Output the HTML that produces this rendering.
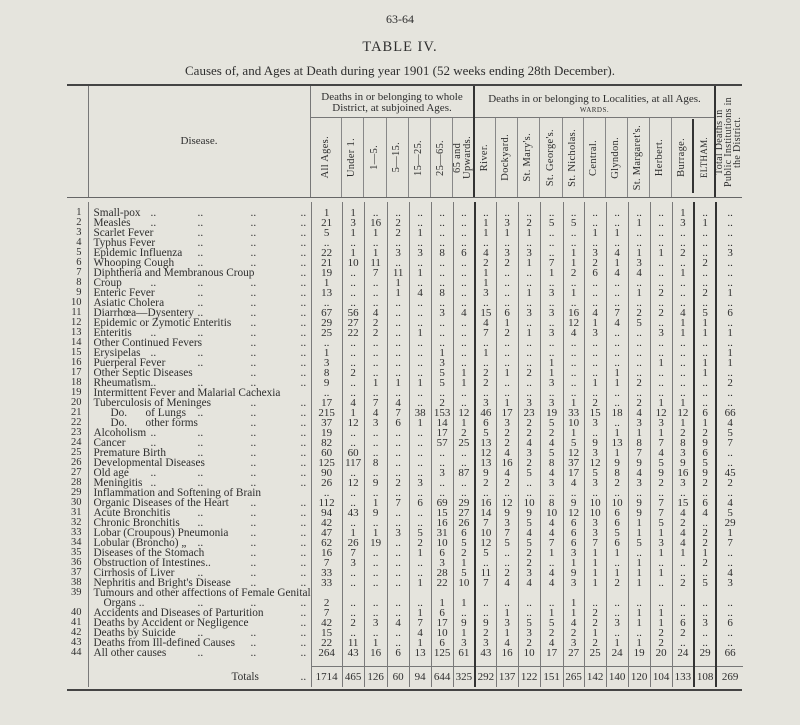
<!DOCTYPE html>
<html><head><meta charset="utf-8">
<style>
body{margin:0;background:#e5e4dd;}
#p{position:relative;width:800px;height:725px;overflow:hidden;background:#e5e4dd;color:#2e2e2e;font-family:"Liberation Serif",serif;}
.t{position:absolute;left:0;width:800px;text-align:center;white-space:nowrap}
.ln{position:absolute;background:#444}
.h{position:absolute;top:117px;height:81px;display:flex;align-items:center;justify-content:center;font-size:10.5px;line-height:10px}
.h span{writing-mode:vertical-rl;transform:rotate(180deg);white-space:nowrap;letter-spacing:0.3px}
table{position:absolute;left:67px;top:202px;border-collapse:collapse;table-layout:fixed;font-size:11px}
td{padding:0;height:10px;line-height:10px;text-align:center;border-left:1px solid #7a7a7a;white-space:nowrap;overflow:visible}
td:first-child{border:0;text-align:right;padding-right:6px;font-size:10.5px}
td:nth-child(2){text-align:left;padding-left:5px;position:relative;font-size:11.3px}
td:nth-child(10),td:nth-child(20),td:nth-child(21){border-left:2px solid #333}
i{position:absolute;top:0;font-style:normal}
.a{left:62px}.b{left:109px}.c{left:162px}.e{left:212px}
tr.sp td{height:6px}
tr.sp2 td{height:8px}
tr.tot td{height:20px;line-height:20px}
tr.tot td:nth-child(n+3){border-top:1px solid #777}
</style></head><body><div id="p">
<div class="t" style="top:12px;font-size:12px">63-64</div>
<div class="t" style="top:39px;font-size:14.5px;letter-spacing:1px">TABLE IV.</div>
<div class="t" style="top:63px;font-size:13px">Causes of, and Ages at Death during year 1901 (52 weeks ending 28th December).</div>

<div class="ln" style="left:67px;top:84px;width:675px;height:2px"></div>
<div class="ln" style="left:310px;top:117px;width:405px;height:1px;background:#777"></div>
<div class="ln" style="left:67px;top:197px;width:675px;height:1px;background:#666"></div>
<div class="ln" style="left:88px;top:86px;width:1px;height:111px;background:#777"></div>
<div class="ln" style="left:310px;top:86px;width:1px;height:111px;background:#777"></div>
<div class="ln" style="left:473px;top:86px;width:2px;height:111px;background:#333"></div>
<div class="ln" style="left:714px;top:86px;width:2px;height:111px;background:#333"></div>
<div class="ln" style="left:692px;top:119px;width:2px;height:74px;background:#333"></div>
<div class="ln" style="left:341px;top:118px;width:1px;height:79px;background:#888"></div>
<div class="ln" style="left:363px;top:118px;width:1px;height:79px;background:#888"></div>
<div class="ln" style="left:386px;top:118px;width:1px;height:79px;background:#888"></div>
<div class="ln" style="left:408px;top:118px;width:1px;height:79px;background:#888"></div>
<div class="ln" style="left:430px;top:118px;width:1px;height:79px;background:#888"></div>
<div class="ln" style="left:452px;top:118px;width:1px;height:79px;background:#888"></div>
<div class="ln" style="left:495px;top:118px;width:1px;height:79px;background:#888"></div>
<div class="ln" style="left:517px;top:118px;width:1px;height:79px;background:#888"></div>
<div class="ln" style="left:539px;top:118px;width:1px;height:79px;background:#888"></div>
<div class="ln" style="left:562px;top:118px;width:1px;height:79px;background:#888"></div>
<div class="ln" style="left:583px;top:118px;width:1px;height:79px;background:#888"></div>
<div class="ln" style="left:605px;top:118px;width:1px;height:79px;background:#888"></div>
<div class="ln" style="left:627px;top:118px;width:1px;height:79px;background:#888"></div>
<div class="ln" style="left:649px;top:118px;width:1px;height:79px;background:#888"></div>
<div class="ln" style="left:671px;top:118px;width:1px;height:79px;background:#888"></div>

<div style="position:absolute;left:88px;top:135px;width:222px;text-align:center;font-size:11px">Disease.</div>
<div style="position:absolute;left:310px;top:92px;width:164px;text-align:center;font-size:11px;line-height:11px">Deaths in or belonging to whole<br>District, at subjoined Ages.</div>
<div style="position:absolute;left:474px;top:94px;width:241px;text-align:center;font-size:11px;line-height:10px">Deaths in or belonging to Localities, at all Ages.<br><span style="font-size:7px;letter-spacing:0.5px">WARDS.</span></div>
<div class="h" style="left:715px;top:86px;height:111px;width:27px;line-height:9px;font-size:10px"><span style="text-align:center">Total Deaths in<br>Public Institutions in<br>the District.</span></div>

<div class="h" style="left:310px;width:31px"><span>All Ages.</span></div>
<div class="h" style="left:341px;width:22px"><span>Under 1.</span></div>
<div class="h" style="left:363px;width:23px"><span>1—5.</span></div>
<div class="h" style="left:386px;width:22px"><span>5—15.</span></div>
<div class="h" style="left:408px;width:22px"><span>15—25.</span></div>
<div class="h" style="left:430px;width:22px"><span>25—65.</span></div>
<div class="h" style="left:452px;width:22px"><span style="text-align:center">65 and<br>Upwards.</span></div>
<div class="h" style="left:474px;width:21px"><span>River.</span></div>
<div class="h" style="left:495px;width:22px"><span>Dockyard.</span></div>
<div class="h" style="left:517px;width:22px"><span>St. Mary's.</span></div>
<div class="h" style="left:539px;width:23px"><span>St. George's.</span></div>
<div class="h" style="left:562px;width:21px"><span>St. Nicholas.</span></div>
<div class="h" style="left:583px;width:22px"><span>Central.</span></div>
<div class="h" style="left:605px;width:22px"><span>Glyndon.</span></div>
<div class="h" style="left:627px;width:22px"><span>St. Margaret's.</span></div>
<div class="h" style="left:649px;width:22px"><span>Herbert.</span></div>
<div class="h" style="left:671px;width:22px"><span>Burrage.</span></div>
<div class="h" style="left:693px;width:22px"><span style="font-size:9px">ELTHAM.</span></div>

<table>
<colgroup><col style="width:21px"><col style="width:222px"><col style="width:31px"><col style="width:22px"><col style="width:23px"><col style="width:22px"><col style="width:22px"><col style="width:22px"><col style="width:22px"><col style="width:21px"><col style="width:22px"><col style="width:22px"><col style="width:23px"><col style="width:21px"><col style="width:22px"><col style="width:22px"><col style="width:22px"><col style="width:22px"><col style="width:22px"><col style="width:22px"><col style="width:27px"></colgroup>
<tr class="sp"><td><td><td><td><td><td><td><td><td><td><td><td><td><td><td><td><td><td><td><td><td></tr>
<tr><td>1<td>Small-pox<i class=a>..</i><i class=b>..</i><i class=c>..</i><i class=e>..</i><td>1<td>1<td>..<td>..<td>..<td>..<td>..<td>..<td>..<td>..<td>..<td>..<td>..<td>..<td>..<td>..<td>1<td>..<td>..</tr>
<tr><td>2<td>Measles<i class=a>..</i><i class=b>..</i><i class=c>..</i><i class=e>..</i><td>21<td>3<td>16<td>2<td>..<td>..<td>..<td>1<td>3<td>2<td>5<td>5<td>..<td>..<td>1<td>..<td>3<td>1<td>..</tr>
<tr><td>3<td>Scarlet Fever<i class=b>..</i><i class=c>..</i><i class=e>..</i><td>5<td>1<td>1<td>2<td>1<td>..<td>..<td>1<td>1<td>1<td>..<td>..<td>1<td>1<td>..<td>..<td>..<td>..<td>..</tr>
<tr><td>4<td>Typhus Fever<i class=b>..</i><i class=c>..</i><i class=e>..</i><td>..<td>..<td>..<td>..<td>..<td>..<td>..<td>..<td>..<td>..<td>..<td>..<td>..<td>..<td>..<td>..<td>..<td>..<td>..</tr>
<tr><td>5<td>Epidemic Influenza<i class=b>..</i><i class=c>..</i><i class=e>..</i><td>22<td>1<td>1<td>3<td>3<td>8<td>6<td>4<td>3<td>3<td>..<td>1<td>3<td>4<td>1<td>1<td>2<td>..<td>3</tr>
<tr><td>6<td>Whooping Cough<i class=b>..</i><i class=c>..</i><i class=e>..</i><td>21<td>10<td>11<td>..<td>..<td>..<td>..<td>2<td>2<td>1<td>7<td>1<td>2<td>1<td>3<td>..<td>..<td>2<td>..</tr>
<tr><td>7<td>Diphtheria and Membranous Croup<i class=e>..</i><td>19<td>..<td>7<td>11<td>1<td>..<td>..<td>1<td>..<td>..<td>1<td>2<td>6<td>4<td>4<td>..<td>1<td>..<td>..</tr>
<tr><td>8<td>Croup<i class=a>..</i><i class=b>..</i><i class=c>..</i><i class=e>..</i><td>1<td>..<td>..<td>1<td>..<td>..<td>..<td>1<td>..<td>..<td>..<td>..<td>..<td>..<td>..<td>..<td>..<td>..<td>..</tr>
<tr><td>9<td>Enteric Fever<i class=b>..</i><i class=c>..</i><i class=e>..</i><td>13<td>..<td>..<td>1<td>4<td>8<td>..<td>3<td>..<td>1<td>3<td>1<td>..<td>..<td>1<td>2<td>..<td>2<td>1</tr>
<tr><td>10<td>Asiatic Cholera<i class=b>..</i><i class=c>..</i><i class=e>..</i><td>..<td>..<td>..<td>..<td>..<td>..<td>..<td>..<td>..<td>..<td>..<td>..<td>..<td>..<td>..<td>..<td>..<td>..<td>..</tr>
<tr><td>11<td>Diarrhœa—Dysentery<i class=b>..</i><i class=c>..</i><i class=e>..</i><td>67<td>56<td>4<td>..<td>..<td>3<td>4<td>15<td>6<td>3<td>3<td>16<td>4<td>7<td>2<td>2<td>4<td>5<td>6</tr>
<tr><td>12<td>Epidemic or Zymotic Enteritis<i class=c>..</i><i class=e>..</i><td>29<td>27<td>2<td>..<td>..<td>..<td>..<td>4<td>1<td>..<td>..<td>12<td>1<td>4<td>5<td>..<td>1<td>1<td>..</tr>
<tr><td>13<td>Enteritis<i class=a>..</i><i class=b>..</i><i class=c>..</i><i class=e>..</i><td>25<td>22<td>2<td>..<td>1<td>..<td>..<td>7<td>2<td>1<td>3<td>4<td>3<td>..<td>..<td>3<td>1<td>1<td>1</tr>
<tr><td>14<td>Other Continued Fevers<i class=c>..</i><i class=e>..</i><td>..<td>..<td>..<td>..<td>..<td>..<td>..<td>..<td>..<td>..<td>..<td>..<td>..<td>..<td>..<td>..<td>..<td>..<td>..</tr>
<tr><td>15<td>Erysipelas<i class=a>..</i><i class=b>..</i><i class=c>..</i><i class=e>..</i><td>1<td>..<td>..<td>..<td>..<td>1<td>..<td>1<td>..<td>..<td>..<td>..<td>..<td>..<td>..<td>..<td>..<td>..<td>1</tr>
<tr><td>16<td>Puerperal Fever<i class=b>..</i><i class=c>..</i><i class=e>..</i><td>3<td>..<td>..<td>..<td>..<td>3<td>..<td>..<td>..<td>..<td>1<td>..<td>..<td>..<td>..<td>1<td>..<td>1<td>1</tr>
<tr><td>17<td>Other Septic Diseases<i class=c>..</i><i class=e>..</i><td>8<td>2<td>..<td>..<td>..<td>5<td>1<td>2<td>1<td>2<td>1<td>..<td>..<td>1<td>..<td>..<td>..<td>1<td>..</tr>
<tr><td>18<td>Rheumatism<i class=a>..</i><i class=b>..</i><i class=c>..</i><i class=e>..</i><td>9<td>..<td>1<td>1<td>1<td>5<td>1<td>2<td>..<td>..<td>3<td>..<td>1<td>1<td>2<td>..<td>..<td>..<td>2</tr>
<tr><td>19<td>Intermittent Fever and Malarial Cachexia<td>..<td>..<td>..<td>..<td>..<td>..<td>..<td>..<td>..<td>..<td>..<td>..<td>..<td>..<td>..<td>..<td>..<td>..<td>..</tr>
<tr><td>20<td>Tuberculosis of Meninges<i class=c>..</i><i class=e>..</i><td>17<td>4<td>7<td>4<td>..<td>2<td>..<td>3<td>1<td>3<td>3<td>1<td>2<td>..<td>2<td>1<td>1<td>..<td>..</tr>
<tr><td>21<td><i style="left:22px">Do.</i><i style="left:57px">of Lungs</i><i class=b>..</i><i class=c>..</i><i class=e>..</i><td>215<td>1<td>4<td>7<td>38<td>153<td>12<td>46<td>17<td>23<td>19<td>33<td>15<td>18<td>4<td>12<td>12<td>6<td>66</tr>
<tr><td>22<td><i style="left:22px">Do.</i><i style="left:57px">other forms</i><i class=c>..</i><i class=e>..</i><td>37<td>12<td>3<td>6<td>1<td>14<td>1<td>6<td>3<td>2<td>5<td>10<td>3<td>..<td>3<td>3<td>1<td>1<td>4</tr>
<tr><td>23<td>Alcoholism<i class=a>..</i><i class=b>..</i><i class=c>..</i><i class=e>..</i><td>19<td>..<td>..<td>..<td>..<td>17<td>2<td>5<td>2<td>2<td>2<td>1<td>..<td>1<td>1<td>1<td>2<td>2<td>5</tr>
<tr><td>24<td>Cancer<i class=a>..</i><i class=b>..</i><i class=c>..</i><i class=e>..</i><td>82<td>..<td>..<td>..<td>..<td>57<td>25<td>13<td>2<td>4<td>4<td>5<td>9<td>13<td>8<td>7<td>8<td>9<td>7</tr>
<tr><td>25<td>Premature Birth<i class=b>..</i><i class=c>..</i><i class=e>..</i><td>60<td>60<td>..<td>..<td>..<td>..<td>..<td>12<td>4<td>3<td>5<td>12<td>3<td>1<td>7<td>4<td>3<td>6<td>..</tr>
<tr><td>26<td>Developmental Diseases<i class=c>..</i><i class=e>..</i><td>125<td>117<td>8<td>..<td>..<td>..<td>..<td>13<td>16<td>2<td>8<td>37<td>12<td>9<td>9<td>5<td>9<td>5<td>..</tr>
<tr><td>27<td>Old age<i class=a>..</i><i class=b>..</i><i class=c>..</i><i class=e>..</i><td>90<td>..<td>..<td>..<td>..<td>3<td>87<td>9<td>4<td>5<td>4<td>17<td>5<td>8<td>4<td>9<td>16<td>9<td>45</tr>
<tr><td>28<td>Meningitis<i class=a>..</i><i class=b>..</i><i class=c>..</i><i class=e>..</i><td>26<td>12<td>9<td>2<td>3<td>..<td>..<td>2<td>2<td>..<td>3<td>4<td>3<td>2<td>3<td>2<td>3<td>2<td>2</tr>
<tr><td>29<td>Inflammation and Softening of Brain<td>..<td>..<td>..<td>..<td>..<td>..<td>..<td>..<td>..<td>..<td>..<td>..<td>..<td>..<td>..<td>..<td>..<td>..<td>..</tr>
<tr><td>30<td>Organic Diseases of the Heart<i class=c>..</i><i class=e>..</i><td>112<td>..<td>1<td>7<td>6<td>69<td>29<td>16<td>12<td>10<td>8<td>9<td>10<td>10<td>9<td>7<td>15<td>6<td>4</tr>
<tr><td>31<td>Acute Bronchitis<i class=b>..</i><i class=c>..</i><i class=e>..</i><td>94<td>43<td>9<td>..<td>..<td>15<td>27<td>14<td>9<td>9<td>10<td>12<td>10<td>6<td>9<td>7<td>4<td>4<td>5</tr>
<tr><td>32<td>Chronic Bronchitis<i class=b>..</i><i class=c>..</i><i class=e>..</i><td>42<td>..<td>..<td>..<td>..<td>16<td>26<td>7<td>3<td>5<td>4<td>6<td>3<td>6<td>1<td>5<td>2<td>..<td>29</tr>
<tr><td>33<td>Lobar (Croupous) Pneumonia<i class=c>..</i><i class=e>..</i><td>47<td>1<td>1<td>3<td>5<td>31<td>6<td>10<td>7<td>4<td>4<td>6<td>3<td>5<td>1<td>1<td>4<td>2<td>1</tr>
<tr><td>34<td>Lobular (Broncho) „<i class=b>..</i><i class=c>..</i><i class=e>..</i><td>62<td>26<td>19<td>..<td>2<td>10<td>5<td>12<td>5<td>5<td>7<td>6<td>7<td>6<td>5<td>3<td>4<td>2<td>7</tr>
<tr><td>35<td>Diseases of the Stomach<i class=c>..</i><i class=e>..</i><td>16<td>7<td>..<td>..<td>1<td>6<td>2<td>5<td>..<td>2<td>1<td>3<td>1<td>1<td>..<td>1<td>1<td>1<td>..</tr>
<tr><td>36<td>Obstruction of Intestines..<i class=c>..</i><i class=e>..</i><td>7<td>3<td>..<td>..<td>..<td>3<td>1<td>..<td>..<td>2<td>..<td>1<td>1<td>..<td>1<td>..<td>..<td>2<td>..</tr>
<tr><td>37<td>Cirrhosis of Liver<i class=b>..</i><i class=c>..</i><i class=e>..</i><td>33<td>..<td>..<td>..<td>..<td>28<td>5<td>11<td>2<td>3<td>4<td>9<td>1<td>1<td>1<td>1<td>..<td>..<td>4</tr>
<tr><td>38<td>Nephritis and Bright's Disease<i class=c>..</i><i class=e>..</i><td>33<td>..<td>..<td>..<td>1<td>22<td>10<td>7<td>4<td>4<td>4<td>3<td>1<td>2<td>1<td>..<td>2<td>5<td>3</tr>
<tr><td>39<td>Tumours and other affections of Female Genital<td><td><td><td><td><td><td><td><td><td><td><td><td><td><td><td><td><td><td></tr>
<tr><td><td><i style="left:15px">Organs ..</i><i class=b>..</i><i class=c>..</i><i class=e>..</i><td>2<td>..<td>..<td>..<td>..<td>1<td>1<td>..<td>..<td>..<td>..<td>1<td>..<td>..<td>..<td>..<td>..<td>..<td>..</tr>
<tr><td>40<td>Accidents and Diseases of Parturition<i class=e>..</i><td>7<td>..<td>..<td>..<td>1<td>6<td>..<td>..<td>1<td>..<td>1<td>1<td>2<td>..<td>1<td>1<td>..<td>..<td>..</tr>
<tr><td>41<td>Deaths by Accident or Negligence<i class=e>..</i><td>42<td>2<td>3<td>4<td>7<td>17<td>9<td>9<td>3<td>5<td>5<td>4<td>2<td>3<td>1<td>1<td>6<td>3<td>6</tr>
<tr><td>42<td>Deaths by Suicide<i class=b>..</i><i class=c>..</i><i class=e>..</i><td>15<td>..<td>..<td>..<td>4<td>10<td>1<td>2<td>1<td>3<td>2<td>2<td>1<td>..<td>..<td>2<td>2<td>..<td>..</tr>
<tr><td>43<td>Deaths from Ill-defined Causes<i class=c>..</i><i class=e>..</i><td>22<td>11<td>1<td>..<td>1<td>6<td>3<td>3<td>4<td>2<td>4<td>3<td>2<td>1<td>1<td>2<td>..<td>..<td>..</tr>
<tr><td>44<td>All other causes<i class=b>..</i><i class=c>..</i><i class=e>..</i><td>264<td>43<td>16<td>6<td>13<td>125<td>61<td>43<td>16<td>10<td>17<td>27<td>25<td>24<td>19<td>20<td>24<td>29<td>66</tr>
<tr class="sp2"><td><td><td><td><td><td><td><td><td><td><td><td><td><td><td><td><td><td><td><td><td></tr>
<tr class="tot"><td><td><i style="left:143px;top:0">Totals</i><i class=e style="top:0">..</i><td>1714<td>465<td>126<td>60<td>94<td>644<td>325<td>292<td>137<td>122<td>151<td>265<td>142<td>140<td>120<td>104<td>133<td>108<td>269</tr>
</table>
<div class="ln" style="left:67px;top:689px;width:675px;height:2px"></div>
</div></body></html>
